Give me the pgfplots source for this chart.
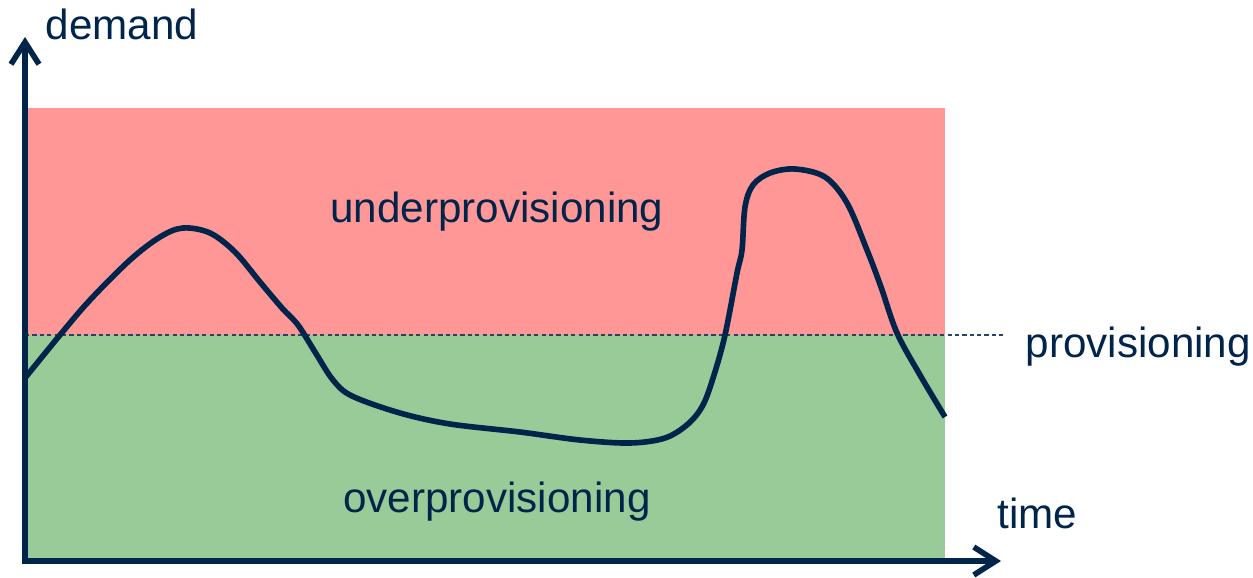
\documentclass[border=0pt]{standalone}
\usepackage{pgfplots}
\pgfplotsset{compat=1.18}
\usetikzlibrary{arrows.meta}
\usepackage{fontspec}
\setmainfont{Liberation Sans}

\definecolor{navy}{HTML}{00244A}
\definecolor{under}{HTML}{FF9797}
\definecolor{over}{HTML}{99CB99}

\tikzset{lbl/.style={font=\fontsize{12}{14}\selectfont, text=navy, inner sep=0pt}}

\begin{document}
\begin{tikzpicture}
\begin{axis}[
  width=12.53cm, height=5.74cm, scale only axis,
  xmin=0, xmax=1253, ymin=0, ymax=574, y dir=reverse,
  hide axis, clip=false,
]
% frame of the page
\addplot[draw=none] coordinates {(0,0) (1253,574)};

% regions
\addplot[fill=under, draw=none] coordinates {(25,108) (945,108) (945,335) (25,335)} -- cycle;
\addplot[fill=over, draw=none] coordinates {(25,335) (945,335) (945,561) (25,561)} -- cycle;

% provisioning level
\addplot[navy!85, line width=0.35pt, dash pattern=on 1.2pt off 0.9pt] coordinates {(25,335) (1005,335)};

% demand curve
\addplot[navy, line width=1.6pt, smooth, tension=0.55] coordinates {
  (25,378) (60,335) (90,300) (130,260) (160,237) (183,228) (210,233)
  (235,252) (260,282) (282,308) (298,325) (315,352) (333,380) (352,396)
  (400,413) (450,424) (520,432) (580,440) (630,443) (665,438) (688,424)
  (703,405) (714,375) (725,335) (737,273) (742,250) (745,207) (753,185)
  (770,173) (795,169) (825,177) (847,203) (867,250) (881,287) (897,333)
  (920,375) (945,417)
};

% axes
\addplot[navy, line width=1.6pt, line join=miter,
  {Straight Barb[length=2.2mm, width=2.8mm]}-{Straight Barb[length=2.2mm, width=2.8mm]}]
  coordinates {(25,37) (25,561) (1001,561)};

% labels
\node[lbl, anchor=base west] at (axis cs:45,40) {demand};
\node[lbl, anchor=base west] at (axis cs:997,528) {time};
\node[lbl, anchor=base west] at (axis cs:1025,357) {provisioning};
\node[lbl, anchor=base] at (axis cs:497,222) {underprovisioning};
\node[lbl, anchor=base] at (axis cs:497,512) {overprovisioning};
\end{axis}
\end{tikzpicture}
\end{document}
